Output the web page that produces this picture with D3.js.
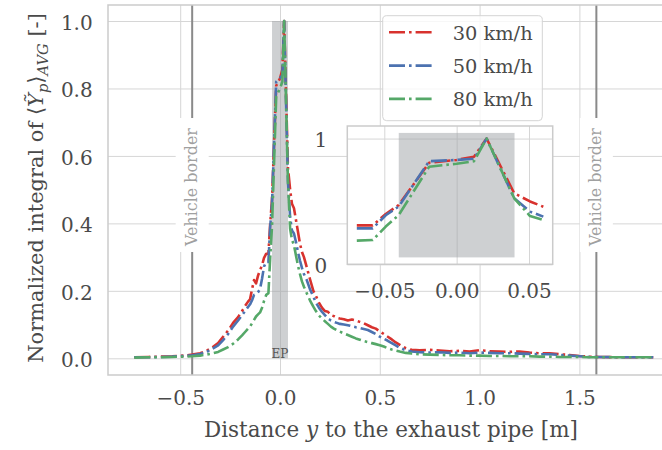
<!DOCTYPE html>
<html><head><meta charset="utf-8">
<script src="https://cdn.jsdelivr.net/npm/d3@7"></script>
<style>body{margin:0;background:#fff}svg{display:block}</style>
</head><body><svg id="c" width="662" height="450"></svg>
<script>
// ---------------- data ----------------
const xPos = [-0.73,-0.66,-0.60,-0.54,-0.48,-0.44,-0.40,-0.37,-0.34,-0.31,-0.285,-0.26,-0.235,-0.21,-0.19,-0.175,-0.16,-0.15,-0.14,-0.13,-0.12,-0.11,-0.10,-0.09,-0.08,-0.069,-0.058,-0.049,-0.040,-0.019,0.000,0.012,0.0207,0.0398,0.0507,0.0599,
  0.07,0.08,0.09,0.10,0.11,0.12,0.134,0.15,0.167,0.18,0.195,0.21,0.225,0.24,0.255,0.27,0.285,0.30,0.32,0.34,0.36,0.38,0.40,0.42,0.44,0.46,0.48,0.50,0.52,0.54,0.56,0.58,0.60,0.63,0.66,0.70,0.75,0.80,0.85,0.90,0.95,1.00,1.05,1.10,1.15,1.20,1.25,1.30,1.35,1.40,1.45,1.50,1.55,1.60,1.70,1.80,1.87];
const v30 = [.003,.004,.005,.006,.008,.011,.015,.022,.032,.045,.064,.082,.105,.122,.140,.155,.168,.175,.205,.232,.222,.245,.262,.275,.298,.31,.31,.40,.472,.808,.83,.856,1.0,.565,.50,.458,
  .445,.41,.375,.34,.315,.30,.27,.235,.20,.185,.165,.150,.140,.138,.128,.125,.120,.118,.116,.112,.115,.112,.108,.104,.098,.092,.088,.080,.072,.064,.056,.047,.040,.030,.025,.024,.025,.023,.021,.022,.020,.024,.021,.020,.019,.020,.017,.015,.015,.012,.010,.007,.005,.004,.003,.003,.003];
const v50 = [.003,.003,.004,.005,.007,.009,.013,.018,.028,.038,.054,.072,.094,.112,.128,.140,.152,.160,.172,.188,.190,.196,.205,.236,.272,.286,.286,.39,.46,.82,.83,.84,1.0,.525,.419,.379,
  .37,.345,.315,.29,.268,.25,.232,.205,.183,.165,.150,.138,.128,.118,.112,.108,.105,.102,.100,.098,.095,.092,.090,.087,.084,.078,.072,.064,.058,.052,.045,.038,.031,.024,.020,.018,.017,.018,.016,.017,.015,.017,.016,.015,.015,.014,.013,.012,.012,.010,.008,.006,.004,.004,.003,.003,.003];
const v80 = [.002,.003,.003,.004,.005,.006,.008,.011,.014,.019,.026,.033,.043,.056,.068,.078,.088,.094,.104,.114,.124,.130,.136,.150,.170,.188,.193,.30,.392,.776,.80,.82,1.0,.525,.384,.352,
  .335,.305,.275,.25,.228,.212,.193,.172,.153,.140,.127,.118,.110,.102,.094,.088,.083,.079,.074,.069,.064,.059,.055,.051,.048,.045,.042,.039,.035,.030,.026,.023,.020,.016,.014,.012,.011,.010,.009,.009,.008,.008,.007,.007,.006,.006,.006,.005,.005,.004,.004,.004,.003,.003,.003,.003,.003];
const seriesNames = ["30 km/h","50 km/h","80 km/h"];
const seriesValues = [v30, v50, v80];
const seriesColors = ["#d8322e","#4c72b0","#55a868"];
const xTicks = [-0.5, 0, 0.5, 1.0, 1.5];
const yTicks = [0, 0.2, 0.4, 0.6, 0.8, 1.0];
const insetXTicks = [-0.05, 0, 0.05];
const insetYTicks = [0, 1];
const vehicleBorders = [-0.44, 1.585];
const epBand = [-0.04, 0.04];
const insetRange = [-0.07, 0.065];

// ---------------- setup ----------------
const svg = d3.select("#c");
const FONT = "'DejaVu Serif', serif";
const TXT = "#4a4a4a";
const GRID = "#d6d6d6";
const FRAME = "#cbcbcb";
const LW = 2.6, DASH = "16,4,2.6,4";

const L = 108, R = 680, T = 5, B = 375;
const x = d3.scaleLinear().domain([-0.5, 1.5]).range([180.2, 579.4]);
const y = d3.scaleLinear().domain([0, 1]).range([358.3, 21]);

svg.append("rect").attr("width", 662).attr("height", 450).attr("fill", "#fff");
svg.append("defs").append("clipPath").attr("id", "mainclip")
  .append("rect").attr("x", L).attr("y", T).attr("width", R - L).attr("height", B - T);

// grid via axes
const gx = svg.append("g").attr("transform", `translate(0,${B})`)
  .call(d3.axisBottom(x).tickValues(xTicks).tickFormat(d3.format(".1f")).tickSize(-(B - T)).tickPadding(0));
gx.select(".domain").remove();
gx.selectAll(".tick line").attr("stroke", GRID).attr("stroke-width", 1);
gx.selectAll(".tick text").attr("y", 30).attr("dy", 0).attr("font-family", FONT)
  .attr("font-size", 20).attr("fill", TXT);

const gy = svg.append("g").attr("transform", `translate(${L},0)`)
  .call(d3.axisLeft(y).tickValues(yTicks).tickFormat(d3.format(".1f")).tickSize(-(R - L)).tickPadding(0));
gy.select(".domain").remove();
gy.selectAll(".tick line").attr("stroke", GRID).attr("stroke-width", 1);
gy.selectAll(".tick text").attr("x", -15.3).attr("dy", "0.42em").attr("font-family", FONT)
  .attr("font-size", 20).attr("fill", TXT).attr("text-anchor", "end");

// EP band
const plot = svg.append("g").attr("clip-path", "url(#mainclip)");
plot.append("rect").attr("x", x(epBand[0])).attr("width", x(epBand[1]) - x(epBand[0]))
  .attr("y", y(1)).attr("height", y(0) - y(1)).attr("fill", "#9ea1a6").attr("opacity", 0.5);

// vehicle borders
vehicleBorders.forEach(v => {
  const px = x(v);
  plot.append("line").attr("x1", px).attr("x2", px).attr("y1", T).attr("y2", B)
    .attr("stroke", "#8a8a8a").attr("stroke-width", 2);
  plot.append("rect").attr("x", px - 16.5).attr("width", 33).attr("y", 118).attr("height", 134).attr("fill", "#fff");
  const t = plot.append("text").attr("transform", `translate(${px - 1},187) rotate(-90)`)
    .attr("text-anchor", "middle").attr("dominant-baseline", "central")
    .attr("font-family", FONT).attr("font-size", 15).attr("fill", "#a0a0a0").text("Vehicle border");
  const w = t.node().getComputedTextLength();
  t.attr("font-size", 15 * 118 / w);
});

// curves
const line = d3.line().x(d => x(d[0])).y(d => y(d[1]));
seriesValues.forEach((vals, i) => {
  plot.append("path").datum(xPos.map((xv, k) => [xv, vals[k]]))
    .attr("d", line).attr("fill", "none").attr("stroke", seriesColors[i])
    .attr("stroke-width", LW).attr("stroke-dasharray", DASH).attr("stroke-linejoin", "round");
});

// EP label
svg.append("text").attr("x", x(0)).attr("y", 358).attr("text-anchor", "middle")
  .attr("font-family", FONT).attr("font-size", 12).attr("fill", "#555").text("EP");

// frame
svg.append("rect").attr("x", L).attr("y", T).attr("width", R - L).attr("height", B - T)
  .attr("fill", "none").attr("stroke", FRAME).attr("stroke-width", 1.5);

// axis titles
const xt = svg.append("text").attr("x", 391).attr("y", 437).attr("text-anchor", "middle")
  .attr("font-family", FONT).attr("font-size", 20).attr("fill", TXT);
xt.append("tspan").text("Distance ");
xt.append("tspan").attr("font-style", "italic").text("y");
xt.append("tspan").text(" to the exhaust pipe [m]");
xt.attr("font-size", 20 * 374 / xt.node().getComputedTextLength());

const yt = svg.append("text").attr("transform", "translate(43,188) rotate(-90)").attr("text-anchor", "middle")
  .attr("font-family", FONT).attr("font-size", 20).attr("fill", TXT);
yt.append("tspan").text("Normalized integral of \u27E8");
yt.append("tspan").attr("font-style", "italic").text("\u1EF8");
yt.append("tspan").attr("font-style", "italic").attr("font-size", "70%").attr("dy", 5).text("p");
yt.append("tspan").attr("dy", -5).text("\u27E9");
yt.append("tspan").attr("font-style", "italic").attr("font-size", "70%").attr("dy", 5).text("AVG");
yt.append("tspan").attr("dy", -5).text(" [-]");
yt.attr("font-size", 20 * 350 / yt.node().getComputedTextLength());

// ---------------- inset ----------------
const IL = 347.3, IR = 552.7, IT = 126, IB = 264.3;
const xi = d3.scaleLinear().domain([-0.05, 0.05]).range([384.3, 529]);
const yi = d3.scaleLinear().domain([0, 1.1]).range([IB, IT]);
svg.append("defs").append("clipPath").attr("id", "insclip")
  .append("rect").attr("x", IL).attr("y", IT).attr("width", IR - IL).attr("height", IB - IT);
svg.append("rect").attr("x", IL).attr("y", IT).attr("width", IR - IL).attr("height", IB - IT).attr("fill", "#fff");

const gxi = svg.append("g").attr("transform", `translate(0,${IB})`)
  .call(d3.axisBottom(xi).tickValues(insetXTicks).tickFormat(d3.format(".2f")).tickSize(-(IB - IT)).tickPadding(0));
gxi.select(".domain").remove();
gxi.selectAll(".tick line").attr("stroke", GRID).attr("stroke-width", 1);
gxi.selectAll(".tick text").attr("y", 34).attr("dy", 0).attr("font-family", FONT)
  .attr("font-size", 20).attr("fill", TXT);

const gyi = svg.append("g").attr("transform", `translate(${IL},0)`)
  .call(d3.axisLeft(yi).tickValues(insetYTicks).tickFormat(d3.format("d")).tickSize(-(IR - IL)).tickPadding(0));
gyi.select(".domain").remove();
gyi.selectAll(".tick line").attr("stroke", GRID).attr("stroke-width", 1);
gyi.selectAll(".tick text").attr("x", -20).attr("dy", "0.4em").attr("font-family", FONT)
  .attr("font-size", 20).attr("fill", TXT).attr("text-anchor", "end");

const ins = svg.append("g").attr("clip-path", "url(#insclip)");
const ih = IB - IT;
ins.append("rect").attr("x", xi(epBand[0])).attr("width", xi(epBand[1]) - xi(epBand[0]))
  .attr("y", IT + 0.05 * ih).attr("height", 0.9 * ih).attr("fill", "#9ea1a6").attr("opacity", 0.5);
const iline = d3.line().x(d => xi(d[0])).y(d => yi(d[1]));
seriesValues.forEach((vals, i) => {
  const pts = xPos.map((xv, k) => [xv, vals[k]]).filter(d => d[0] >= insetRange[0] && d[0] <= insetRange[1]);
  ins.append("path").datum(pts).attr("d", iline).attr("fill", "none").attr("stroke", seriesColors[i])
    .attr("stroke-width", LW).attr("stroke-dasharray", DASH).attr("stroke-linejoin", "round");
});
svg.append("rect").attr("x", IL).attr("y", IT).attr("width", IR - IL).attr("height", IB - IT)
  .attr("fill", "none").attr("stroke", FRAME).attr("stroke-width", 1.5);

// ---------------- legend ----------------
const lg = svg.append("g");
lg.append("rect").attr("x", 382.7).attr("y", 15.7).attr("width", 159.6).attr("height", 105).attr("rx", 4)
  .attr("fill", "#fff").attr("fill-opacity", 0.8).attr("stroke", "#d4d4d4").attr("stroke-width", 1);
seriesNames.forEach((n, i) => {
  const ly = 32.3 + i * 33.3;
  lg.append("line").attr("x1", 389).attr("x2", 434).attr("y1", ly).attr("y2", ly)
    .attr("stroke", seriesColors[i]).attr("stroke-width", LW).attr("stroke-dasharray", DASH);
  const t = lg.append("text").attr("x", 452.7).attr("y", ly + 7.5).attr("font-family", FONT)
    .attr("font-size", 19).attr("fill", TXT).text(n);
  t.attr("font-size", 19 * 80 / t.node().getComputedTextLength());
});
</script></body></html>
